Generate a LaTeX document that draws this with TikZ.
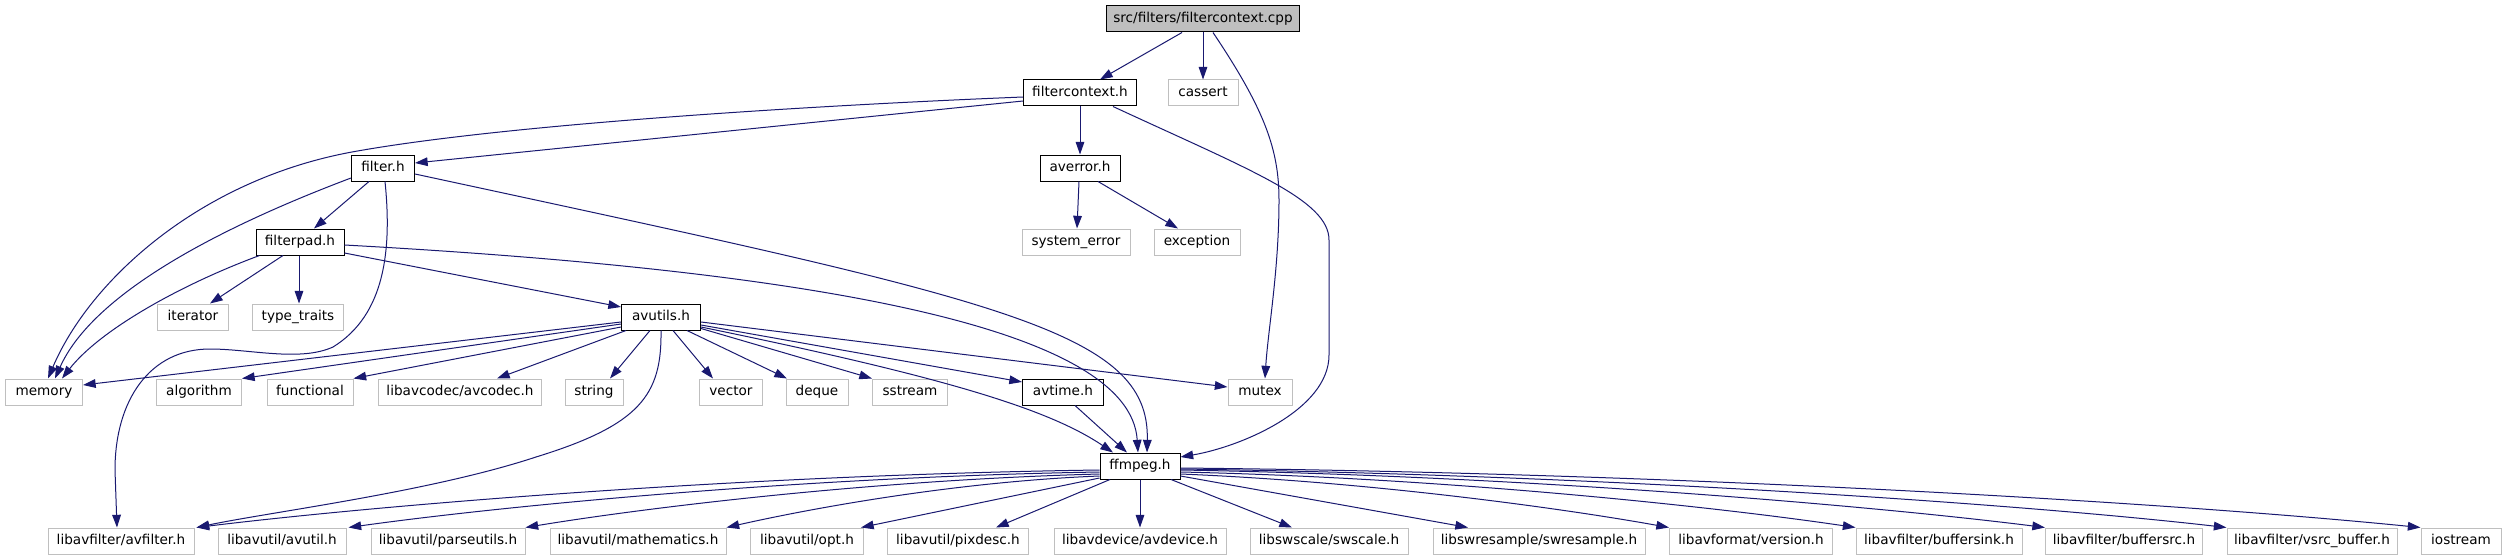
\documentclass[tikz,border=0pt]{standalone}
\usepackage{fontspec}
\setmainfont{DejaVu Sans}
\usetikzlibrary{arrows.meta,calc}
\definecolor{edgeblue}{HTML}{191970}
\definecolor{greyseventyfive}{HTML}{BFBFBF}
\begin{document}
\begin{tikzpicture}[x=0.75pt,y=-0.75pt,
  box/.style={draw, fill=white, line width=0.75pt, minimum height=19.5pt, inner sep=0pt,
    text height=7.6pt, text depth=2pt, font=\fontsize{10.2}{12}\selectfont},
  docbox/.style={box, draw=black},
  nodoc/.style={box, draw=greyseventyfive},
  bw/.style={minimum width=#1*0.75pt},
  edge/.style={draw=edgeblue, line width=0.75pt, -{Triangle[length=9.5pt,width=6.5pt]}}
]
\fill[white] (0,0) rectangle (2507,560);
\useasboundingbox (0,0) rectangle (2507,560);

% nodes
\node[docbox, fill=greyseventyfive, bw=193] (src) at (1203,19) {src/filters/filtercontext.cpp};
\node[docbox, bw=113] (fch) at (1080,93) {filtercontext.h};
\node[nodoc, bw=70] (cassert) at (1203,93) {cassert};
\node[docbox, bw=80] (averror) at (1080,168) {averror.h};
\node[nodoc, bw=108] (syserr) at (1076,242) {system\_error};
\node[nodoc, bw=86] (exception) at (1197,242) {exception};
\node[docbox, bw=63] (filter) at (383,168) {filter.h};
\node[docbox, bw=88] (filterpad) at (300,242) {filterpad.h};
\node[nodoc, bw=71] (iterator) at (193,317) {iterator};
\node[nodoc, bw=91] (typetraits) at (298,317) {type\_traits};
\node[docbox, bw=79] (avutils) at (661,317) {avutils.h};
\node[nodoc, bw=77] (memory) at (44,392) {memory};
\node[nodoc, bw=85] (algorithm) at (199,392) {algorithm};
\node[nodoc, bw=86] (functional) at (310,392) {functional};
\node[nodoc, bw=163] (avcodec) at (460,392) {libavcodec/avcodec.h};
\node[nodoc, bw=58] (string) at (594,392) {string};
\node[nodoc, bw=63] (vector) at (731,392) {vector};
\node[nodoc, bw=62] (deque) at (817,392) {deque};
\node[nodoc, bw=75] (sstream) at (910,392) {sstream};
\node[docbox, bw=81] (avtime) at (1063,392) {avtime.h};
\node[nodoc, bw=64] (mutex) at (1260,392) {mutex};
\node[docbox, bw=80] (ffmpeg) at (1140,466) {ffmpeg.h};
\node[nodoc, bw=146] (avfilter) at (121,541) {libavfilter/avfilter.h};
\node[nodoc, bw=128] (avutil) at (282,541) {libavutil/avutil.h};
\node[nodoc, bw=154] (parseutils) at (448,541) {libavutil/parseutils.h};
\node[nodoc, bw=176] (mathematics) at (638,541) {libavutil/mathematics.h};
\node[nodoc, bw=113] (opt) at (807,541) {libavutil/opt.h};
\node[nodoc, bw=141] (pixdesc) at (958,541) {libavutil/pixdesc.h};
\node[nodoc, bw=172] (avdevice) at (1140,541) {libavdevice/avdevice.h};
\node[nodoc, bw=158] (swscale) at (1329,541) {libswscale/swscale.h};
\node[nodoc, bw=212] (swresample) at (1539,541) {libswresample/swresample.h};
\node[nodoc, bw=163] (version) at (1751,541) {libavformat/version.h};
\node[nodoc, bw=166] (buffersink) at (1939,541) {libavfilter/buffersink.h};
\node[nodoc, bw=157] (buffersrc) at (2124,541) {libavfilter/buffersrc.h};
\node[nodoc, bw=170] (vsrc) at (2312,541) {libavfilter/vsrc\_buffer.h};
\node[nodoc, bw=80] (iostream) at (2461,541) {iostream};

% edges from src
\draw[edge] ($(src.south)+(-21,0)$) -- ($(fch.north)+(20,0)$);
\draw[edge] (src.south) -- (cassert.north);
\draw[edge] ($(src.south)+(10,0)$) .. controls (1265,110) and (1279,150) .. (1279,200)
  .. controls (1279,270) and (1268,330) .. ($(mutex.north)+(5,0)$);

% edges from filtercontext.h
\draw[edge] ($(fch.west)+(0,4)$) .. controls (800,106) and (500,125) .. (352,152)
  .. controls (200,180) and (90,280) .. ($(memory.north)+(4,0)$);
\draw[edge] ($(fch.west)+(0,8)$) -- ($(filter.east)+(0,-5)$);
\draw[edge] (fch.south) -- (averror.north);
\draw[edge] ($(fch.south)+(33,0)$) .. controls (1250,170) and (1329,200) .. (1329,240)
  -- (1329,355) .. controls (1329,410) and (1240,447) .. ($(ffmpeg.east)+(0,-9)$);

% averror.h
\draw[edge] ($(averror.south)+(-1,0)$) -- ($(syserr.north)+(1,0)$);
\draw[edge] ($(averror.south)+(18,0)$) -- ($(exception.north)+(-19,0)$);

% filter.h
\draw[edge] ($(filter.south)+(-14,0)$) -- ($(filterpad.north)+(14,0)$);
\draw[edge] ($(filter.west)+(0,10)$) .. controls (200,235) and (90,300) .. ($(memory.north)+(11,0)$);
\draw[edge] ($(filter.south)+(2,0)$) .. controls (392,250) and (385,315) .. (333,347)
  .. controls (300,362) and (250,349) .. (210,349)
  .. controls (150,349) and (115,400) .. (115,470) -- ($(avfilter.north)+(-4,0)$);
\draw[edge] ($(filter.east)+(0,6)$) .. controls (1000,300) and (1150,330) .. ($(ffmpeg.north)+(7,0)$);

% filterpad.h
\draw[edge] ($(filterpad.south west)+(4,0)$) .. controls (180,285) and (100,330) .. ($(memory.north)+(18,0)$);
\draw[edge] ($(filterpad.south)+(-17,0)$) -- ($(iterator.north)+(17,0)$);
\draw[edge] ($(filterpad.south)+(-1,0)$) -- ($(typetraits.north)+(1,0)$);
\draw[edge] ($(filterpad.east)+(0,11)$) -- ($(avutils.west)+(0,-10)$);
\draw[edge] ($(filterpad.east)+(0,3)$) .. controls (800,270) and (1130,325) .. ($(ffmpeg.north)+(-2,0)$);

% avutils.h
\draw[edge] ($(avutils.west)+(0,5)$) -- ($(memory.east)+(0,-7)$);
\draw[edge] ($(avutils.west)+(0,7)$) -- (algorithm.north east);
\draw[edge] ($(avutils.west)+(0,10)$) -- (functional.north east);
\draw[edge] ($(avutils.south west)+(5,0)$) -- ($(avcodec.north)+(37,0)$);
\draw[edge] ($(avutils.south)+(-11,0)$) -- ($(string.north)+(16,0)$);
\draw[edge] ($(avutils.south)+(12,0)$) -- ($(vector.north)+(-18,0)$);
\draw[edge] ($(avutils.south)+(26,0)$) -- ($(deque.north)+(-30,0)$);
\draw[edge] ($(avutils.south east)+(0,-2)$) -- (sstream.north west);
\draw[edge] ($(avutils.east)+(0,8)$) -- ($(avtime.west)+(0,-10)$);
\draw[edge] ($(avutils.east)+(0,5)$) -- ($(mutex.west)+(0,-5)$);
\draw[edge] ($(avutils.east)+(0,10)$) .. controls (950,378) and (1050,410) .. ($(ffmpeg.north)+(-27,0)$);
\draw[edge] (avutils.south) .. controls (662,395) and (640,425) .. (536,457)
  .. controls (430,492) and (270,512) .. ($(avfilter.north east)+(2,0)$);

% avtime.h
\draw[edge] ($(avtime.south)+(12,0)$) -- ($(ffmpeg.north)+(-13,0)$);

% ffmpeg.h fan-out
\draw[edge] ($(ffmpeg.west)+(0,4)$) .. controls +(-360,5) and +(180,-22) .. ($(avfilter.north east)+(2,0)$);
\draw[edge] ($(ffmpeg.west)+(0,6)$) .. controls +(-300,5) and +(150,-21) .. ($(avutil.north east)+(2,0)$);
\draw[edge] ($(ffmpeg.west)+(0,8)$) .. controls +(-230,6) and +(115,-19) .. (parseutils.north east);
\draw[edge] ($(ffmpeg.west)+(0,10)$) .. controls +(-150,6) and +(75,-17) .. (mathematics.north east);
\draw[edge] ($(ffmpeg.west)+(0,12)$) -- ($(opt.north east)+(-3,0)$);
\draw[edge] ($(ffmpeg.south)+(-30,0)$) -- ($(pixdesc.north)+(38,0)$);
\draw[edge] (ffmpeg.south) -- (avdevice.north);
\draw[edge] ($(ffmpeg.south)+(31,0)$) -- ($(swscale.north)+(-37,0)$);
\draw[edge] ($(ffmpeg.east)+(0,10)$) -- ($(swresample.north)+(-71,0)$);
\draw[edge] ($(ffmpeg.east)+(0,8)$) .. controls +(195,8) and +(-100,-18) .. (version.north west);
\draw[edge] ($(ffmpeg.east)+(0,6)$) .. controls +(270,6) and +(-135,-20) .. (buffersink.north west);
\draw[edge] ($(ffmpeg.east)+(0,4)$) .. controls +(345,6) and +(-175,-22) .. (buffersrc.north west);
\draw[edge] ($(ffmpeg.east)+(0,3)$) .. controls +(420,6) and +(-210,-24) .. (vsrc.north west);
\draw[edge] ($(ffmpeg.east)+(0,2)$) .. controls +(500,5) and +(-250,-25) .. (iostream.north west);
\end{tikzpicture}
\end{document}
